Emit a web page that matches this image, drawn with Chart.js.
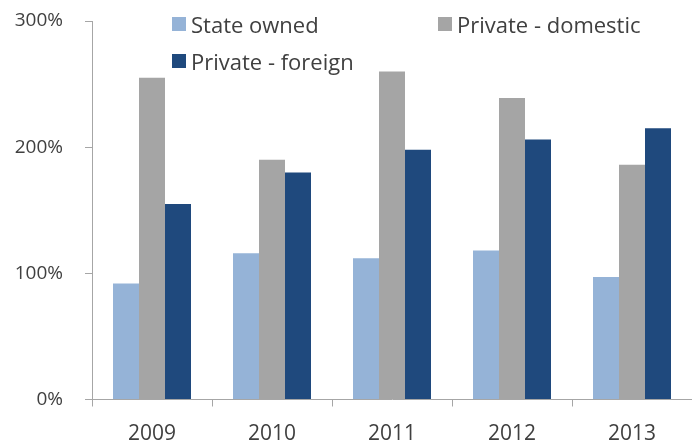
<!DOCTYPE html>
<html>
<head>
<meta charset="utf-8">
<script src="https://cdn.jsdelivr.net/npm/chart.js@4/dist/chart.umd.min.js"></script>
<style>
  html, body { margin: 0; padding: 0; background: #ffffff; }
  #wrap { position: relative; width: 692px; height: 443px; }
  #legend { position: absolute; left: 0; top: 0; width: 692px; height: 80px; pointer-events: none;
            font-family: "Open Sans", sans-serif; font-size: 22px; color: #404040; }
  .item { position: absolute; display: flex; align-items: center; white-space: nowrap; height: 26px; }
  .box { width: 14px; height: 14px; margin-right: 5px; }
</style>
</head>
<body>
<div id="wrap">
  <canvas id="c" width="692" height="443"></canvas>
  <div id="legend"></div>
</div>
<script>
const categories = ["2009", "2010", "2011", "2012", "2013"];
const seriesNames = ["State owned", "Private - domestic", "Private - foreign"];
const stateOwned = [92, 116, 112, 118, 97];
const privateDomestic = [255, 190, 260, 239, 186];
const privateForeign = [155, 180, 198, 206, 215];
const yTicks = [0, 100, 200, 300];

const colors = ["#95B3D7", "#A5A5A5", "#1F497D"];
const textColor = "#404040";
const axisColor = "#A6A6A6";

const data = {
  labels: categories,
  datasets: [
    { label: seriesNames[0], data: stateOwned, backgroundColor: colors[0] },
    { label: seriesNames[1], data: privateDomestic, backgroundColor: colors[1] },
    { label: seriesNames[2], data: privateForeign, backgroundColor: colors[2] }
  ]
};

const chart = new Chart(document.getElementById("c"), {
  type: "bar",
  data: data,
  options: {
    responsive: false,
    animation: false,
    devicePixelRatio: 1,
    layout: { padding: { top: 21, left: 0, right: 0, bottom: 0 } },
    datasets: { bar: { categoryPercentage: 0.65, barPercentage: 1.0 } },
    plugins: { legend: { display: false }, tooltip: { enabled: false } },
    scales: {
      x: {
        grid: { display: true, offset: true, drawOnChartArea: false, drawTicks: true, tickLength: 7, color: axisColor, lineWidth: 1 },
        border: { display: true, color: axisColor, width: 1 },
        ticks: { color: textColor, font: { family: "Open Sans", size: 21 }, padding: 15, maxRotation: 0 },
        afterFit: (s) => { s.height = 43.5; s.paddingLeft = 0; s.paddingRight = 0; }
      },
      y: {
        min: 0, max: 300,
        afterBuildTicks: (s) => { s.ticks = yTicks.map(v => ({ value: v })); },
        grid: { display: true, drawOnChartArea: false, drawTicks: true, tickLength: 7, color: axisColor, lineWidth: 1 },
        border: { display: true, color: axisColor, width: 1 },
        ticks: { color: textColor, font: { family: "Open Sans", size: 19 }, padding: 22, callback: (v) => v + "%" },
        afterFit: (s) => { s.width = 92; s.paddingTop = 0; s.paddingBottom = 0; }
      }
    }
  }
});

// HTML legend built from dataset labels/colors
const legendPos = [ { left: 172, top: 11 }, { left: 438, top: 11 }, { left: 172, top: 48 } ];
const legendEl = document.getElementById("legend");
data.datasets.forEach((ds, i) => {
  const it = document.createElement("div");
  it.className = "item";
  it.style.left = legendPos[i].left + "px";
  it.style.top = legendPos[i].top + "px";
  const b = document.createElement("span");
  b.className = "box";
  b.style.background = ds.backgroundColor;
  const t = document.createElement("span");
  t.textContent = ds.label;
  it.appendChild(b); it.appendChild(t);
  legendEl.appendChild(it);
});
</script>
</body>
</html>
